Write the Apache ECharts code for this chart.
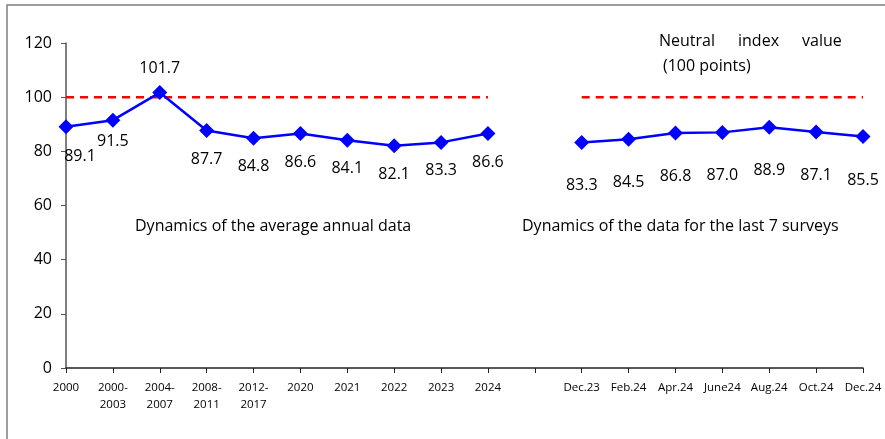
<!DOCTYPE html>
<html>
<head>
<meta charset="utf-8">
<script src="https://cdn.jsdelivr.net/npm/echarts@6/dist/echarts.min.js"></script>
<style>
  html, body { margin: 0; padding: 0; background: #fff; }
  #chart { width: 885px; height: 439px; }
</style>
</head>
<body>
<div id="chart"></div>
<script>
// categories (the empty one is the gap between the two groups)
const categories = [
  "2000", "2000-\n2003", "2004-\n2007", "2008-\n2011", "2012-\n2017",
  "2020", "2021", "2022", "2023", "2024", "",
  "Dec.23", "Feb.24", "Apr.24", "June24", "Aug.24", "Oct.24", "Dec.24"
];
// index values, '-' = gap
const indexValues = [
  89.1, 91.5, 101.7, 87.7, 84.8, 86.6, 84.1, 82.1, 83.3, 86.6, "-",
  83.3, 84.5, 86.8, 87.0, 88.9, 87.1, 85.5
];
// neutral value line
const neutralValues = [
  100, 100, 100, 100, 100, 100, 100, 100, 100, 100, "-",
  100, 100, 100, 100, 100, 100, 100
];
const yTicks = [0, 20, 40, 60, 80, 100, 120];

const FONT = "Open Sans";
const chart = echarts.init(document.getElementById("chart"));

// label placement per point
const blueData = indexValues.map((v, i) => {
  if (v === "-") return v;
  let label = { position: "bottom", distance: 13 };
  if (i === 0) label = { position: "bottom", distance: 14, offset: [14, 0] };
  if (i === 1) label = { position: "bottom", distance: 6 };
  if (i === 2) label = { position: "top", distance: 9 };
  if (i > 10) label = { position: "bottom", distance: 28 };
  return { value: v, label: label };
});

const option = {
  animation: false,
  grid: { left: 66, right: 22, top: 43, bottom: 71 },
  xAxis: {
    type: "category",
    data: categories,
    boundaryGap: false,
    axisLine: { lineStyle: { color: "#222", width: 1.5 } },
    axisTick: { show: true, length: 5, inside: false, lineStyle: { color: "#222" } },
    axisLabel: {
      interval: 0, color: "#000", fontFamily: FONT, fontSize: 11.5,
      margin: 11, lineHeight: 17
    },
    splitLine: { show: false }
  },
  yAxis: {
    type: "value",
    min: yTicks[0],
    max: yTicks[yTicks.length - 1],
    interval: 20,
    axisLine: { show: true, lineStyle: { color: "#555", width: 1.5 } },
    axisTick: { show: true, length: 5, lineStyle: { color: "#555" } },
    axisLabel: { color: "#000", fontFamily: FONT, fontSize: 16, margin: 14 },
    splitLine: { show: false }
  },
  series: [
    {
      name: "Neutral",
      type: "line",
      data: neutralValues,
      symbol: "none",
      lineStyle: { color: "#ff0000", width: 2.5, type: [8, 6] },
      silent: true
    },
    {
      name: "Index",
      type: "line",
      data: blueData,
      connectNulls: false,
      symbol: "diamond",
      symbolSize: 15,
      itemStyle: { color: "#0000ff" },
      lineStyle: { color: "#0000ff", width: 2.5 },
      label: {
        show: true, color: "#000", fontFamily: FONT, fontSize: 16,
        formatter: (p) => p.value.toFixed(1)
      }
    }
  ],
  graphic: [
    {
      type: "rect", z: -1, silent: true,
      shape: { x: 7, y: 5, width: 900, height: 500 },
      style: { fill: "none", stroke: "#7f7f7f", lineWidth: 1.5 }
    },
    {
      type: "text", left: 135, top: 218,
      style: { text: "Dynamics of the average annual data", fontFamily: FONT, fontSize: 16, fill: "#000" }
    },
    {
      type: "text", left: 522, top: 218,
      style: { text: "Dynamics of the data for the last 7 surveys", fontFamily: FONT, fontSize: 16, fill: "#000" }
    },
    {
      type: "text", left: 659, top: 33,
      style: { text: "Neutral", fontFamily: FONT, fontSize: 16, fill: "#000" }
    },
    {
      type: "text", left: 738, top: 33,
      style: { text: "index", fontFamily: FONT, fontSize: 16, fill: "#000" }
    },
    {
      type: "text", left: 802, top: 33,
      style: { text: "value", fontFamily: FONT, fontSize: 16, fill: "#000" }
    },
    {
      type: "text", left: 663, top: 58,
      style: { text: "(100 points)", fontFamily: FONT, fontSize: 16, fill: "#000" }
    }
  ]
};

chart.setOption(option);
window.addEventListener("resize", chart.resize);
</script>
</body>
</html>
